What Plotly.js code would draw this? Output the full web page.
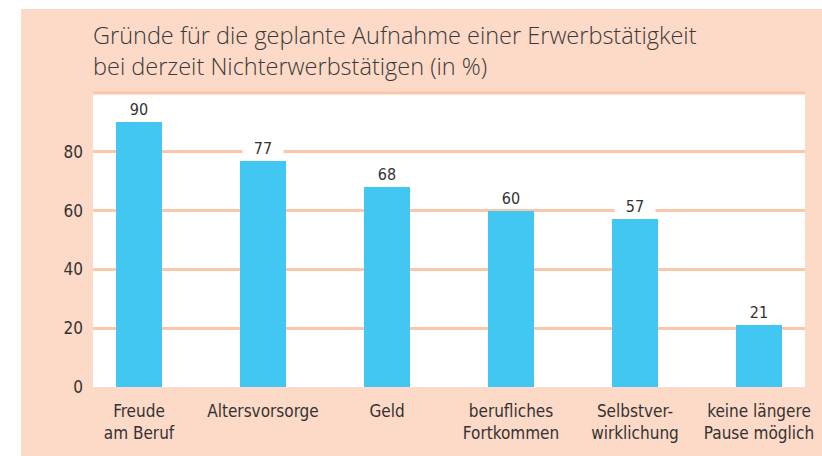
<!DOCTYPE html>
<html>
<head>
<meta charset="utf-8">
<script src="https://cdn.plot.ly/plotly-3.0.1.min.js"></script>
<style>
html,body{margin:0;padding:0;background:#fff;}
#chart{width:822px;height:456px;}
</style>
</head>
<body>
<div id="chart"></div>
<script>
const categories = ["Freude<br>am Beruf", "Altersvorsorge", "Geld", "berufliches<br>Fortkommen", "Selbstver-<br>wirklichung", "keine längere<br>Pause möglich"];
const values = [90, 77, 68, 60, 57, 21];
const yTickVals = [0, 20, 40, 60, 80];
const yTickText = ["0", "20", "40", "60", "80"];

const W = 822, H = 456;
const L = 93, R = 17, T = 93, B = 69;
const pw = W - L - R, ph = H - T - B;
const peach = "#fdd9c7";
const gridCol = "#fbc7aa";
const textCol = "#333333";
const condFont = "'Liberation Sans Narrow', 'Arial Narrow', 'DejaVu Sans Condensed', sans-serif";

const xIdx = categories.map((c, i) => i);

const trace = {
  type: "bar",
  x: xIdx,
  y: values,
  width: 0.371,
  marker: {color: "#42c6f2", line: {width: 0}},
  hoverinfo: "none"
};

const annotations = values.map((v, i) => ({
  x: i, y: v, xref: "x", yref: "y",
  text: String(v),
  showarrow: false,
  yanchor: "middle",
  yshift: 13,
  width: 40,
  height: 20,
  bgcolor: "#ffffff",
  borderpad: 0,
  font: {family: condFont, size: 16, color: textCol}
}));

const px2x = p => (p - L) / pw;
const px2y = p => (H - B - p) / ph;

const shapes = [
  {type: "rect", xref: "paper", yref: "paper", layer: "below",
   x0: px2x(-5), x1: px2x(21), y0: px2y(H + 5), y1: px2y(-5),
   fillcolor: "#ffffff", line: {width: 0}},
  {type: "rect", xref: "paper", yref: "paper", layer: "below",
   x0: px2x(-5), x1: px2x(W + 5), y0: px2y(9), y1: px2y(-5),
   fillcolor: "#ffffff", line: {width: 0}},
  {type: "line", xref: "paper", yref: "paper", layer: "above",
   x0: 0, x1: 1, y0: 1, y1: 1,
   line: {color: gridCol, width: 3}}
];

const layout = {
  width: W, height: H,
  margin: {l: L, r: R, t: T, b: B, pad: 0},
  paper_bgcolor: peach,
  plot_bgcolor: "#ffffff",
  showlegend: false,
  bargap: 0,
  title: {
    text: "Gründe für die geplante Aufnahme einer Erwerbstätigkeit<br>bei derzeit Nichterwerbstätigen (in %)",
    x: 0, xref: "paper", xanchor: "left",
    y: 1 - 44 / H, yref: "container", yanchor: "top",
    font: {family: "'Open Sans', 'Liberation Sans', sans-serif", size: 23.5, color: "#3a3a3a", weight: 300}
  },
  xaxis: {
    range: [-0.371, 5.371],
    tickmode: "array",
    tickvals: xIdx,
    ticktext: categories,
    showgrid: false,
    zeroline: false,
    showline: false,
    ticks: "",
    ticklabelstandoff: 12,
    tickfont: {family: condFont, size: 17, color: textCol},
    fixedrange: true
  },
  yaxis: {
    range: [0, 100],
    tickmode: "array",
    tickvals: yTickVals,
    ticktext: yTickText,
    showgrid: true,
    gridcolor: gridCol,
    gridwidth: 3,
    zeroline: false,
    showline: false,
    ticks: "",
    ticklabelstandoff: 9,
    tickfont: {family: condFont, size: 17, color: textCol},
    fixedrange: true
  },
  annotations: annotations,
  shapes: shapes
};

Plotly.newPlot("chart", [trace], layout, {displayModeBar: false, staticPlot: true});
</script>
</body>
</html>
